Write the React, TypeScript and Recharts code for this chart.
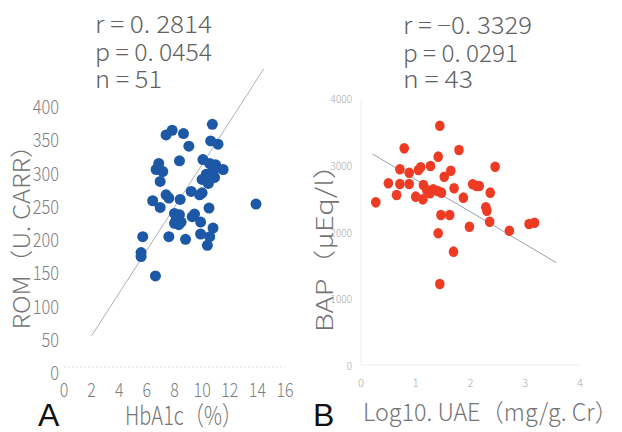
import React from 'react';
import { ScatterChart, Scatter, XAxis, YAxis, ReferenceLine } from 'recharts';

// Panel A: HbA1c vs ROM
const hba1c = [10.74, 7.39, 7.83, 8.65, 9.04, 10.62, 11.15, 8.36, 6.86, 6.67, 7.15, 6.96, 10.06, 10.55, 10.98, 11.52, 10.79, 10.3, 10.0, 10.6, 10.9, 10.45, 6.42, 7.39, 7.59, 6.96, 8.41, 9.21, 9.82, 10.0, 10.5, 8.0, 8.36, 8.12, 8.48, 8.0, 8.31, 9.28, 9.45, 9.89, 10.79, 5.7, 7.59, 8.8, 9.89, 10.55, 10.38, 5.58, 5.58, 6.62, 13.9];
const rom = [365, 349, 356, 351, 332, 340, 335, 310, 306, 297, 294, 279, 312, 306, 304, 297, 294, 290, 282, 283, 285, 276, 250, 259, 254, 240, 252, 264, 259, 262, 239, 231, 229, 221, 218, 216, 214, 226, 230, 218, 209, 196, 196, 192, 200, 196, 183, 172, 166, 137, 245];
const trendAX = [2, 14.45];
const trendAY = [47, 448];
const xTicksA = [0, 2, 4, 6, 8, 10, 12, 14, 16];
const yTicksA = [0, 50, 100, 150, 200, 250, 300, 350, 400];
const statsA = ['r = 0. 2814', 'p = 0. 0454', 'n = 51'];

// Panel B: Log10 UAE vs BAP
const uae = [0.27, 0.5, 0.65, 0.71, 0.71, 0.79, 0.88, 0.88, 1.0, 1.05, 1.09, 1.13, 1.14, 1.2, 1.26, 1.27, 1.32, 1.41, 1.4, 1.47, 1.44, 1.41, 1.44, 1.46, 1.52, 1.64, 1.62, 1.7, 1.69, 1.79, 1.87, 1.98, 2.04, 2.11, 2.16, 2.28, 2.3, 2.36, 2.35, 2.45, 2.71, 3.07, 3.17];
const bap = [2437, 2722, 2547, 2932, 2712, 3246, 2881, 2712, 2522, 2921, 2961, 2482, 2697, 2622, 2572, 2981, 2632, 3121, 2607, 2582, 3585, 1973, 1213, 2247, 2821, 2911, 2247, 2647, 1698, 3221, 2507, 2072, 2707, 2682, 2682, 2362, 2312, 2582, 2147, 2971, 2012, 2112, 2132];
const trendBX = [0.21, 3.57];
const trendBY = [3161, 1533];
const xTicksB = [0, 1, 2, 3, 4];
const yTicksB = [0, 1000, 2000, 3000, 4000];
const statsB = ['r = \u22120. 3329', 'p = 0. 0291', 'n = 43'];

const dataA = hba1c.map((x, i) => ({ x, y: rom[i] }));
const dataB = uae.map((x, i) => ({ x, y: bap[i] }));

const JP = "'Noto Sans CJK JP Light', 'Noto Sans CJK JP', 'Noto Sans', sans-serif";

const LeftYTick = (props: any) => {
  const { x, y, payload } = props;
  return (
    <text x={0} y={0} transform={`translate(${x},${y + 13}) scale(0.82,1)`} textAnchor="end" fill="#808080" fontSize={20} fontWeight={300} fontFamily={JP}>
      {payload.value}
    </text>
  );
};
const LeftXTick = (props: any) => {
  const { x, y, payload } = props;
  return (
    <text x={0} y={0} transform={`translate(${x},${y + 30}) scale(0.8,1)`} textAnchor="middle" fill="#808080" fontSize={20} fontWeight={300} fontFamily={JP}>
      {payload.value}
    </text>
  );
};
const RightYTick = (props: any) => {
  const { x, y, payload } = props;
  return (
    <text x={x} y={y + 5} textAnchor="end" fill="#a8a8a8" fontSize={10} fontWeight={300} fontFamily={JP}>
      {payload.value}
    </text>
  );
};
const RightXTick = (props: any) => {
  const { x, y, payload } = props;
  return (
    <text x={x} y={y + 22} textAnchor="middle" fill="#a8a8a8" fontSize={11} fontWeight={300} fontFamily={JP}>
      {payload.value}
    </text>
  );
};

const BlueDot = (props: any) => <circle cx={props.cx} cy={props.cy} r={5.5} fill="#1c58a6" />;
const RedDot = (props: any) => <ellipse cx={props.cx} cy={props.cy} rx={4.8} ry={5.3} fill="#ee3b24" />;

export default function App() {
  return (
    <div style={{ position: 'absolute', left: 0, top: 0, width: 622, height: 432, background: '#fff', overflow: 'hidden' }}>
      <div style={{ position: 'absolute', left: 0, top: 0 }}>
        <ScatterChart width={310} height={432} margin={{ top: 101, right: 25, left: 0, bottom: 0 }}>
          <XAxis
            type="number"
            dataKey="x"
            domain={[0, 16]}
            ticks={xTicksA}
            height={65}
            tickSize={0}
            tickMargin={0}
            tickLine={false}
            axisLine={{ stroke: '#e2e2e2', strokeDasharray: '2 2' }}
            tick={<LeftXTick />}
            interval={0}
          />
          <YAxis
            type="number"
            dataKey="y"
            domain={[0, 400]}
            ticks={yTicksA}
            width={64}
            tickSize={0}
            tickMargin={5}
            tickLine={false}
            axisLine={false}
            tick={<LeftYTick />}
            interval={0}
          />
          <ReferenceLine
            segment={[{ x: trendAX[0], y: trendAY[0] }, { x: trendAX[1], y: trendAY[1] }]}
            stroke="#a8b0bc"
            strokeWidth={1}
            ifOverflow="visible"
          />
          <Scatter data={dataA} shape={<BlueDot />} isAnimationActive={false} />
        </ScatterChart>
      </div>
      <div style={{ position: 'absolute', left: 300, top: 0 }}>
        <ScatterChart width={322} height={432} margin={{ top: 98, right: 42, left: 0, bottom: 0 }}>
          <XAxis
            type="number"
            dataKey="x"
            domain={[0, 4]}
            ticks={xTicksB}
            height={67}
            tickSize={0}
            tickMargin={0}
            tickLine={false}
            axisLine={{ stroke: '#ededed' }}
            tick={<RightXTick />}
            interval={0}
          />
          <YAxis
            type="number"
            dataKey="y"
            domain={[0, 4000]}
            ticks={yTicksB}
            width={61}
            tickSize={0}
            tickMargin={9}
            tickLine={false}
            axisLine={{ stroke: '#f0f0f0' }}
            tick={<RightYTick />}
            interval={0}
          />
          <ReferenceLine
            segment={[{ x: trendBX[0], y: trendBY[0] }, { x: trendBX[1], y: trendBY[1] }]}
            stroke="#93a3ab"
            strokeWidth={1}
            ifOverflow="visible"
          />
          <Scatter data={dataB} shape={<RedDot />} isAnimationActive={false} />
        </ScatterChart>
      </div>
      <svg width={622} height={432} style={{ position: 'absolute', left: 0, top: 0, pointerEvents: 'none' }}>
        {statsA.map((s, i) => (
          <text key={'a' + i} x={95} y={[33, 61, 88][i]} fontSize={24} fontWeight={300} fill="#626262" fontFamily={JP} textLength={[117, 117, 67][i]} lengthAdjust="spacingAndGlyphs">
            {s}
          </text>
        ))}
        {statsB.map((s, i) => (
          <text key={'b' + i} x={403} y={[34, 62, 88][i]} fontSize={24} fontWeight={300} fill="#626262" fontFamily={JP} textLength={[129, 115, 70][i]} lengthAdjust="spacingAndGlyphs">
            {s}
          </text>
        ))}
        <text transform="translate(30,231) rotate(-90)" textAnchor="middle" fontSize={23} fontWeight={300} fill="#747474" fontFamily={JP} textLength={197} lengthAdjust="spacingAndGlyphs">
          ROM（U. CARR）
        </text>
        <text transform="translate(333,241) rotate(-90)" textAnchor="middle" fontSize={23} fontWeight={300} fill="#747474" fontFamily={JP} textLength={182} lengthAdjust="spacingAndGlyphs">
          BAP（μEq/l）
        </text>
        <text x={125} y={425} fontSize={26} fontWeight={300} fill="#747474" fontFamily={JP} textLength={117} lengthAdjust="spacingAndGlyphs">
          HbA1c（%）
        </text>
        <text x={363} y={421} fontSize={24} fontWeight={300} fill="#747474" fontFamily={JP} textLength={255} lengthAdjust="spacingAndGlyphs">
          Log10. UAE（mg/g. Cr）
        </text>
        <text x={38} y={426} fontSize={32} fill="#111" fontFamily="'Liberation Sans', Arial, sans-serif">A</text>
        <text x={313} y={426} fontSize={32} fill="#111" fontFamily="'Liberation Sans', Arial, sans-serif">B</text>
      </svg>
    </div>
  );
}
